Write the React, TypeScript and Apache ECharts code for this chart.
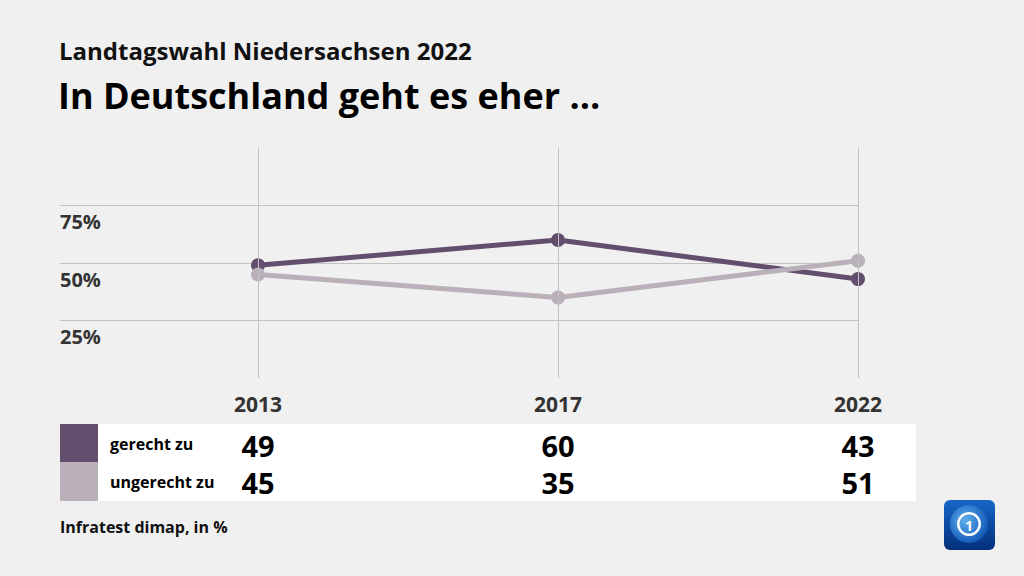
import React, { useEffect, useRef } from "react";
import * as echarts from "echarts";

const categories = ["2013", "2017", "2022"];
const seriesNames = ["gerecht zu", "ungerecht zu"];
const gerechtValues = [49, 60, 43];
const ungerechtValues = [45, 35, 51];
const seriesColors = ["#634e6d", "#b9b0ba"];
const title = "Landtagswahl Niedersachsen 2022";
const subtitle = "In Deutschland geht es eher ...";
const source = "Infratest dimap, in %";

const FONT = "'Open Sans', 'Noto Sans', sans-serif";

export default function App() {
  const ref = useRef<HTMLDivElement>(null);
  useEffect(() => {
    if (!ref.current) return;
    const chart = echarts.init(ref.current, null, { renderer: "svg" });
    const valueAxis = (vals: number[], offset: number) => ({
      gridIndex: 0,
      type: "category",
      data: vals.map(String),
      boundaryGap: false,
      position: "bottom",
      offset,
      z: 10,
      axisLine: { show: false },
      axisTick: { show: false },
      splitLine: { show: false },
      axisLabel: {
        interval: 0,
        margin: 0,
        verticalAlign: "middle",
        fontFamily: FONT,
        fontWeight: "bold",
        fontSize: 29,
        color: "#000",
      },
    });
    chart.setOption({
      animation: false,
      backgroundColor: "#f0f0f0",
      textStyle: { fontFamily: FONT },
      grid: [
        { left: 258, right: 166, top: 148, bottom: 198 },
        { left: 60, right: 166, top: 148, bottom: 198 },
      ],
      xAxis: [
        {
          gridIndex: 0,
          type: "category",
          data: categories,
          boundaryGap: false,
          position: "bottom",
          offset: 26,
          z: 10,
          axisLine: { show: false },
          axisTick: { show: false },
          splitLine: { show: true, lineStyle: { color: "#c2c2c2", width: 1 } },
          axisLabel: {
            interval: 0,
            margin: 0,
            verticalAlign: "middle",
            fontFamily: FONT,
            fontWeight: "bold",
            fontSize: 21,
            color: "#333",
          },
        },
        valueAxis(gerechtValues, 67),
        valueAxis(ungerechtValues, 104),
        { gridIndex: 1, type: "value", min: 0, max: 1, show: false },
      ],
      yAxis: [
        { gridIndex: 0, type: "value", min: 0, max: 100, show: false },
        {
          gridIndex: 1,
          type: "value",
          min: 0,
          max: 100,
          interval: 25,
          axisLine: { show: false },
          axisTick: { show: false },
          splitLine: {
            show: true,
            showMinLine: false,
            showMaxLine: false,
            lineStyle: { color: "#c2c2c2", width: 1 },
          },
          axisLabel: {
            inside: true,
            margin: 0,
            align: "left",
            verticalAlign: "top",
            padding: [6, 0, 0, 0],
            showMinLabel: false,
            showMaxLabel: false,
            fontFamily: FONT,
            fontWeight: "bold",
            fontSize: 20,
            color: "#333",
            formatter: (v: number) => (v === 0 || v === 100 ? "" : v + "%"),
          },
        },
      ],
      series: [
        {
          name: seriesNames[0],
          type: "line",
          xAxisIndex: 0,
          yAxisIndex: 0,
          data: gerechtValues,
          symbol: "circle",
          symbolSize: 14,
          lineStyle: { width: 5, color: seriesColors[0] },
          itemStyle: { color: seriesColors[0] },
          z: 3,
        },
        {
          name: seriesNames[1],
          type: "line",
          xAxisIndex: 0,
          yAxisIndex: 0,
          data: ungerechtValues,
          symbol: "circle",
          symbolSize: 14,
          lineStyle: { width: 5, color: seriesColors[1] },
          itemStyle: { color: seriesColors[1] },
          z: 4,
        },
      ],
      graphic: [
        {
          type: "text",
          left: 59,
          top: 38,
          z: 1,
          style: {
            text: title,
            fontFamily: FONT,
            fontWeight: "bold",
            fontSize: 24,
            fill: "#111",
          },
        },
        {
          type: "text",
          left: 58,
          top: 77,
          z: 1,
          style: {
            text: subtitle,
            fontFamily: FONT,
            fontWeight: "bold",
            fontSize: 36,
            fill: "#000",
          },
        },
        { type: "rect", z: -5, shape: { x: 98, y: 424, width: 818, height: 77 }, style: { fill: "#ffffff" } },
        { type: "rect", z: -4, shape: { x: 60, y: 424, width: 38, height: 38 }, style: { fill: seriesColors[0] } },
        { type: "rect", z: -4, shape: { x: 60, y: 462, width: 38, height: 39 }, style: { fill: seriesColors[1] } },
        ...seriesNames.map((n, i) => ({
          type: "text",
          z: 1,
          x: 110,
          y: 444 + i * 38,
          style: {
            text: n,
            fontFamily: FONT,
            fontWeight: "bold",
            fontSize: 16,
            fill: "#000",
            verticalAlign: "middle",
          },
        })),
        {
          type: "text",
          x: 60,
          y: 527,
          z: 1,
          style: {
            text: source,
            fontFamily: FONT,
            fontWeight: "bold",
            fontSize: 16,
            fill: "#111",
            verticalAlign: "middle",
          },
        },
        {
          type: "rect",
          z: 1,
          shape: { x: 944, y: 500, width: 51, height: 50, r: 6 },
          style: {
            fill: new echarts.graphic.LinearGradient(0, 0, 0, 1, [
              { offset: 0, color: "#1667c8" },
              { offset: 1, color: "#032f7a" },
            ]),
          },
        },
        {
          type: "circle",
          z: 2,
          shape: { cx: 969, cy: 524, r: 19 },
          style: {
            fill: new echarts.graphic.RadialGradient(0.4, 0.4, 0.7, [
              { offset: 0, color: "#5fb0f0" },
              { offset: 1, color: "#0a4fb0" },
            ]),
          },
        },
        {
          type: "ring",
          z: 3,
          shape: { cx: 969, cy: 524, r: 12, r0: 9.5 },
          style: { fill: "#ffffff" },
        },
        {
          type: "text",
          z: 3,
          x: 969,
          y: 525,
          style: {
            text: "1",
            fontFamily: FONT,
            fontWeight: "bold",
            fontSize: 14,
            fill: "#ffffff",
            align: "center",
            verticalAlign: "middle",
          },
        },
      ],
    });
    return () => chart.dispose();
  }, []);
  return (
    <div
      ref={ref}
      style={{ position: "absolute", left: 0, top: 0, width: 1024, height: 576 }}
    />
  );
}
